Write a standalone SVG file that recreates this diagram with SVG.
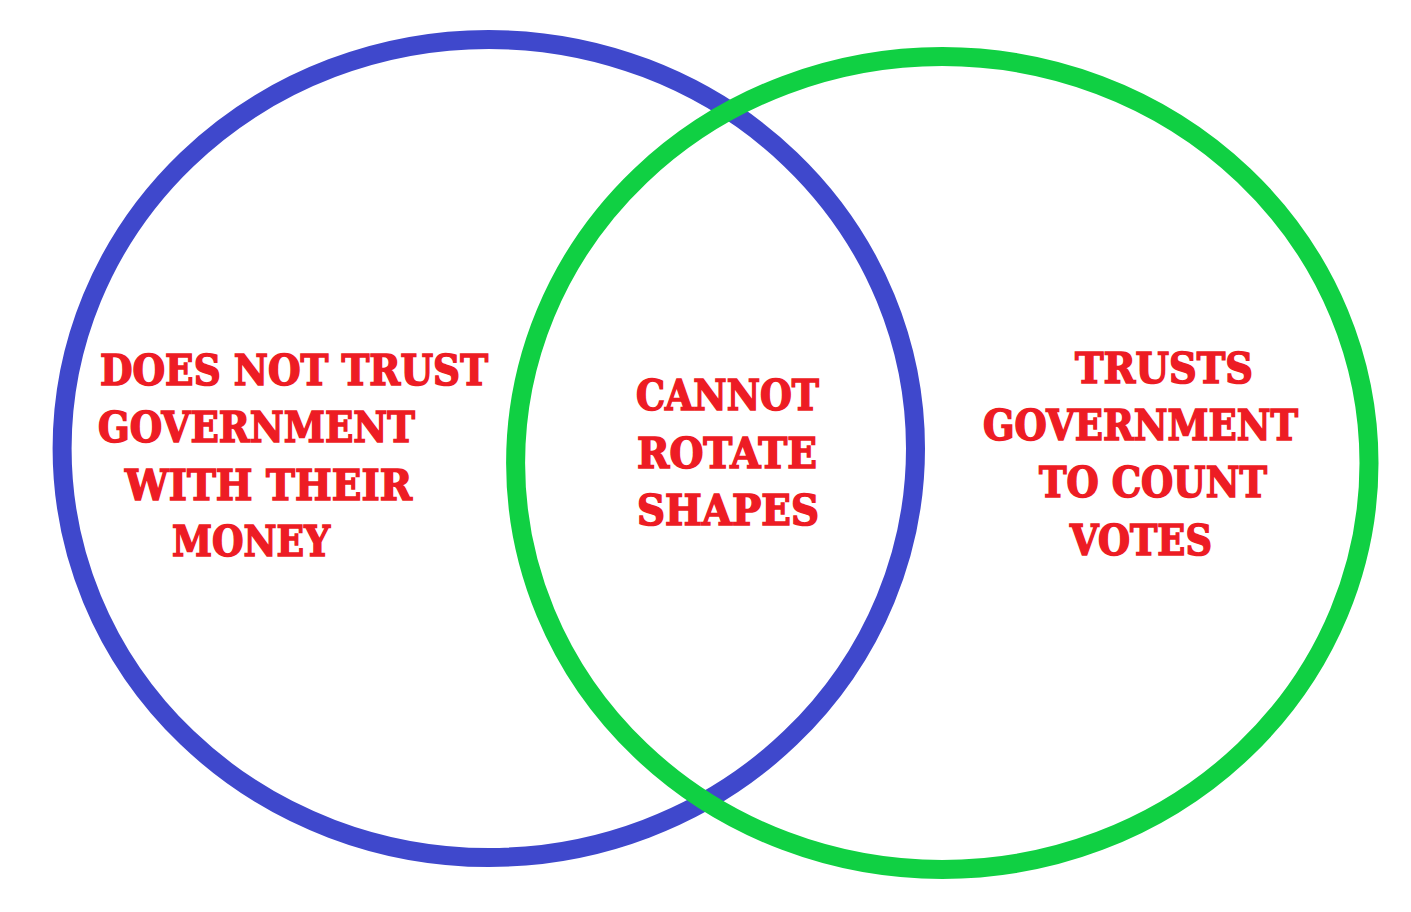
<svg xmlns="http://www.w3.org/2000/svg" width="1411" height="912" viewBox="0 0 1411 912">
<style>
.ring{fill:none;stroke-width:19}
.lbl{font-family:"DejaVu Serif","Liberation Serif",serif;font-weight:bold;font-size:42px;fill:#ED1C24;stroke:#ED1C24;stroke-width:1.6;stroke-linejoin:miter}
</style>
<rect width="1411" height="912" fill="#ffffff"/>
<g id="circle-left">
<ellipse class="ring" cx="488.8" cy="448.5" rx="426.7" ry="409" stroke="#3F48CC"/>
</g>
<g id="circle-right">
<ellipse class="ring" cx="942.3" cy="463" rx="426.7" ry="406.5" stroke="#10D043"/>
</g>
<g id="label-left">
<text class="lbl" x="100" y="385" textLength="388" lengthAdjust="spacingAndGlyphs">DOES NOT TRUST</text>
<text class="lbl" x="98" y="442" textLength="317" lengthAdjust="spacingAndGlyphs">GOVERNMENT</text>
<text class="lbl" x="125" y="500" textLength="287" lengthAdjust="spacingAndGlyphs">WITH THEIR</text>
<text class="lbl" x="172" y="556" textLength="158" lengthAdjust="spacingAndGlyphs">MONEY</text>
</g>
<g id="label-middle">
<text class="lbl" x="636" y="410" textLength="183" lengthAdjust="spacingAndGlyphs">CANNOT</text>
<text class="lbl" x="637" y="468" textLength="180" lengthAdjust="spacingAndGlyphs">ROTATE</text>
<text class="lbl" x="637" y="525" textLength="182" lengthAdjust="spacingAndGlyphs">SHAPES</text>
</g>
<g id="label-right">
<text class="lbl" x="1075" y="383" textLength="178" lengthAdjust="spacingAndGlyphs">TRUSTS</text>
<text class="lbl" x="983" y="440" textLength="315" lengthAdjust="spacingAndGlyphs">GOVERNMENT</text>
<text class="lbl" x="1039" y="497" textLength="228" lengthAdjust="spacingAndGlyphs">TO COUNT</text>
<text class="lbl" x="1070" y="555" textLength="142" lengthAdjust="spacingAndGlyphs">VOTES</text>
</g>
<g id="connectors"/>
</svg>
